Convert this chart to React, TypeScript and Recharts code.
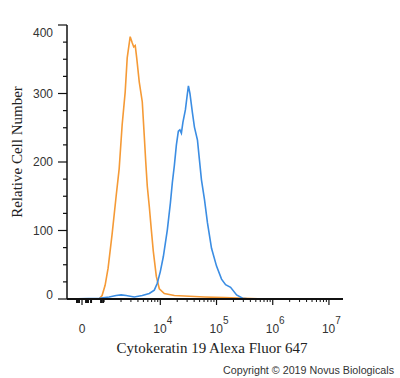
import React from 'react'
import { LineChart, Line, XAxis, YAxis } from 'recharts'

// x positions are in decades on the biexponential axis (4 = 10^4), y is cell count
const isotypeX = [2.34, 2.821, 2.911, 2.964, 3.018, 3.071, 3.143, 3.214, 3.268, 3.321, 3.375, 3.411, 3.464, 3.5, 3.527, 3.554, 3.58, 3.625, 3.679, 3.714, 3.741, 3.768, 3.804, 3.839, 3.875, 3.929, 3.982, 4.071, 4.25, 4.518, 4.786, 5.143, 5.5, 5.857, 7.25]
const isotypeY = [0, 0, 0, 5, 20, 45, 95, 150, 190, 254, 302, 352, 383, 374, 368, 370, 352, 317, 288, 239, 200, 165, 135, 102, 70, 33, 15, 8, 5, 4, 3, 2, 1, 0, 0]

const ck19X = [2.34, 2.911, 3.089, 3.214, 3.304, 3.393, 3.536, 3.679, 3.804, 3.893, 3.946, 4.0, 4.054, 4.125, 4.179, 4.214, 4.25, 4.286, 4.321, 4.348, 4.375, 4.402, 4.446, 4.482, 4.5, 4.527, 4.571, 4.607, 4.661, 4.696, 4.732, 4.786, 4.839, 4.911, 5.0, 5.089, 5.161, 5.25, 5.357, 5.464, 5.589, 7.25]
const ck19Y = [0, 1, 3, 5, 6, 5, 3, 5, 8, 13, 23, 40, 62, 101, 140, 170, 195, 225, 245, 247, 242, 258, 276, 300, 311, 300, 272, 251, 232, 203, 174, 145, 111, 74, 48, 29, 21, 17, 6, 1, 0, 0]

const yTicks = [0, 25, 50, 75, 100, 125, 150, 175, 200, 225, 250, 275, 300, 325, 350, 375, 400]
const yLabels = [0, 100, 200, 300, 400]

// 0 sits at 2.607; the rest are decades and log minor ticks
const xMajor = [2.607, 4, 5, 6, 7]
const xMajorText = ['0', '4', '5', '6', '7']
const xNearZero = [2.518, 2.554, 2.679, 2.714, 2.768, 2.946, 2.982]
const xMinor = [
  3, 3.301, 3.477, 3.602, 3.699, 3.778, 3.845, 3.903, 3.954,
  4.301, 4.477, 4.602, 4.699, 4.778, 4.845, 4.903, 4.954,
  5.301, 5.477, 5.602, 5.699, 5.778, 5.845, 5.903, 5.954,
  6.301, 6.477, 6.602, 6.699, 6.778, 6.845, 6.903, 6.954,
]

const isotype = isotypeX.map((x, i) => ({ x, y: isotypeY[i] }))
const ck19 = ck19X.map((x, i) => ({ x, y: ck19Y[i] }))
const xTicks = [...xNearZero, ...xMinor, ...xMajor].sort((a, b) => a - b)

const sans = 'Arial, "Liberation Sans", sans-serif'
const serif = '"Times New Roman", "Liberation Serif", serif'

const XTick = (props: any) => {
  const { x, y, payload } = props
  const v = payload.value
  const major = xMajor.indexOf(v)
  const near = xNearZero.includes(v)
  if (major < 0) {
    return <line x1={x} x2={x} y1={y} y2={y + (near ? 4 : 3)} stroke="#111" strokeWidth={near ? 2 : 1} />
  }
  return (
    <g>
      <line x1={x} x2={x} y1={y} y2={y + 6} stroke="#111" strokeWidth={1.2} />
      {major === 0 ? (
        <text x={x} y={y + 34} textAnchor="middle" fontSize={12} fontFamily={sans} fill="#333">0</text>
      ) : (
        <text x={x - 7} y={y + 34} fontSize={12} fontFamily={sans} fill="#333">
          10
          <tspan dy={-9} fontSize={10}>{xMajorText[major]}</tspan>
        </text>
      )}
    </g>
  )
}

const YTick = (props: any) => {
  const { x, y, payload } = props
  const v = payload.value
  const major = yLabels.includes(v)
  const shift = v === 400 ? 8 : v === 0 ? -4 : 0
  return (
    <g>
      <line x1={x - (major ? 9 : 4)} x2={x} y1={y} y2={y} stroke="#111" strokeWidth={1.2} />
      {major && (
        <text x={x - 14} y={y + shift} dy="0.35em" textAnchor="end" fontSize={12} fontFamily={sans} fill="#333">
          {v}
        </text>
      )}
    </g>
  )
}

export default function App() {
  return (
    <div style={{ position: 'absolute', left: 0, top: 0, width: 400, height: 378, background: '#fff' }}>
      <LineChart width={400} height={378} margin={{ top: 25, right: 57, bottom: 0, left: 0 }}>
        <XAxis
          dataKey="x"
          type="number"
          domain={[2.34, 7.25]}
          allowDataOverflow
          ticks={xTicks}
          interval={0}
          tick={<XTick />}
          tickLine={false}
          tickSize={0}
          tickMargin={0}
          height={79}
          axisLine={{ stroke: '#111', strokeWidth: 2 }}
        />
        <YAxis
          type="number"
          domain={[0, 400]}
          ticks={yTicks}
          interval={0}
          tick={<YTick />}
          tickLine={false}
          tickSize={0}
          tickMargin={0}
          width={67}
          axisLine={{ stroke: '#111', strokeWidth: 1.5 }}
        />
        <Line data={isotype} dataKey="y" type="linear" stroke="#F59A36" strokeWidth={1.6} dot={false} activeDot={false} isAnimationActive={false} />
        <Line data={ck19} dataKey="y" type="linear" stroke="#3B8DE3" strokeWidth={1.6} dot={false} activeDot={false} isAnimationActive={false} />
      </LineChart>
      <svg width={400} height={378} style={{ position: 'absolute', left: 0, top: 0, pointerEvents: 'none' }}>
        <text x={17} y={152} transform="rotate(-90 17 152)" dy="0.35em" textAnchor="middle" fontSize={15} fontFamily={serif} fill="#222">
          Relative Cell Number
        </text>
        <text x={212} y={353} textAnchor="middle" fontSize={15} fontFamily={serif} fill="#222">
          Cytokeratin 19 Alexa Fluor 647
        </text>
        <text x={394} y={374} textAnchor="end" fontSize={10} fontFamily={sans} fill="#333" textLength={171} lengthAdjust="spacingAndGlyphs">
          Copyright © 2019 Novus Biologicals
        </text>
      </svg>
    </div>
  )
}
